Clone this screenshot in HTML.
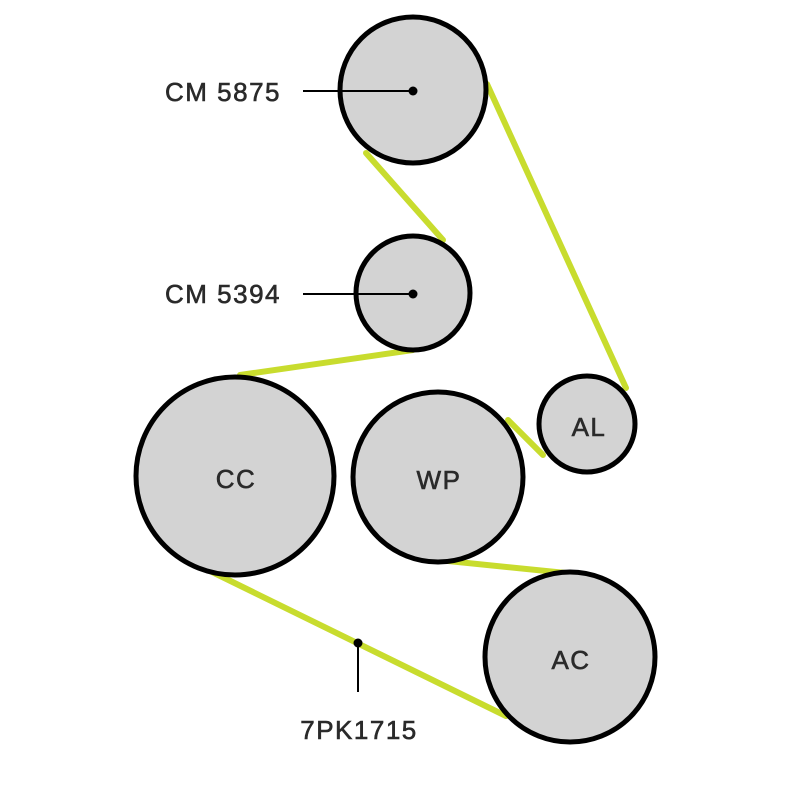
<!DOCTYPE html>
<html><head><meta charset="utf-8"><style>
html,body{margin:0;padding:0;background:#fff;}
svg{display:block;}
text{font-family:"Liberation Sans",sans-serif;fill:#2a2a2a;stroke:#2a2a2a;stroke-width:0.6;letter-spacing:1.5px;}
</style></head><body>
<svg width="800" height="800" viewBox="0 0 800 800">
<g stroke="#c8dc2e" stroke-width="6" stroke-linecap="round">
<line x1="487" y1="84" x2="626" y2="388"/>
<line x1="366" y1="153" x2="443" y2="240"/>
<line x1="413" y1="350" x2="240" y2="375"/>
<line x1="508" y1="420" x2="543" y2="455"/>
<line x1="448" y1="561" x2="566" y2="573"/>
<line x1="208" y1="570" x2="506" y2="716"/>
</g>
<g fill="#d3d3d3" stroke="#000" stroke-width="5">
<circle cx="413" cy="90" r="73"/>
<circle cx="413" cy="293" r="57"/>
<circle cx="235" cy="476" r="99"/>
<circle cx="438" cy="477" r="85"/>
<circle cx="587" cy="424" r="48"/>
<circle cx="570" cy="657" r="85"/>
</g>
<g stroke="#000" stroke-width="2">
<line x1="303" y1="91" x2="413" y2="91"/>
<line x1="303" y1="294" x2="413" y2="294"/>
<line x1="358" y1="643" x2="358" y2="692"/>
</g>
<g fill="#000">
<circle cx="413" cy="91" r="4.5"/>
<circle cx="413" cy="294" r="4.5"/>
<circle cx="358" cy="643" r="4.5"/>
</g>
<g font-size="26">
<text x="165" y="101">CM 5875</text>
<text x="165" y="303">CM 5394</text>
<text x="236" y="488" text-anchor="middle">CC</text>
<text x="439" y="489" text-anchor="middle">WP</text>
<text x="589" y="436" text-anchor="middle">AL</text>
<text x="571" y="669" text-anchor="middle">AC</text>
<text x="359" y="739" text-anchor="middle">7PK1715</text>
</g>
</svg>
</body></html>
